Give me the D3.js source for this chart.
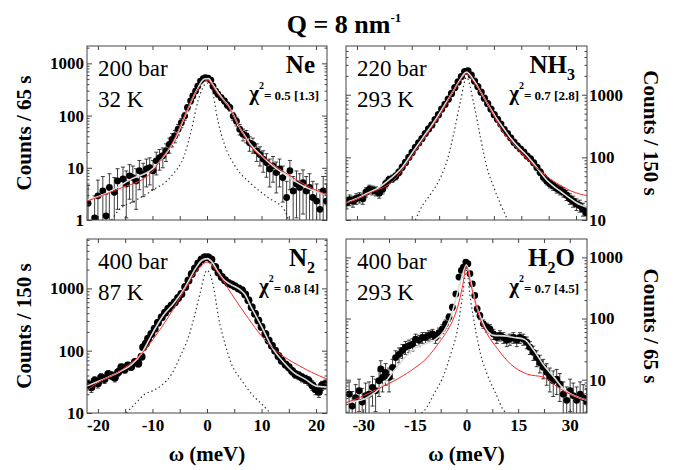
<!DOCTYPE html>
<html>
<head>
<meta charset="utf-8">
<script src="https://cdn.jsdelivr.net/npm/d3@7"></script>
<style>
  body { margin: 0; background: #fff; }
</style>
</head>
<body>
<script>
// ---- data: [omega (meV), counts, error] ----
const nePoints = [[-21.8,2.1,2.5],[-20.6,1.1,1.8],[-20.0,2.9,2.9],[-19.1,3.6,3.2],[-18.5,1.2,1.9],[-17.9,4.2,3.5],[-17.0,3.4,3.1],[-16.4,5.6,4.0],[-15.4,6.1,4.2],[-14.8,4.9,3.8],[-14.2,7.0,4.5],[-13.6,6.5,4.3],[-13.0,5.6,4.0],[-12.4,8.8,5.0],[-11.7,7.5,4.7],[-11.1,9.5,5.2],[-10.5,10.1,5.4],[-9.9,8.8,5.0],[-9.3,13.6,6.3],[-8.7,15.7,6.7],[-8.1,17,7],[-7.5,21,7.8],[-6.9,28,9],[-6.4,35,10],[-5.9,41,11],[-5.3,55,12.6],[-4.7,73,14.5],[-4.1,98,17],[-3.6,142,20],[-3.0,190,23],[-2.6,237,26],[-2.1,295,29],[-1.7,366,32],[-1.2,458,36],[-0.7,510,38],[-0.3,535,39],[0.2,520,39],[0.7,475,37],[1.1,366,32],[1.6,295,29],[2.0,256,27],[2.6,220,25],[3.2,190,23],[3.7,160,21.5],[4.2,142,20],[4.8,98,17],[5.4,78,15],[6.0,55,12.6],[6.6,44,11.3],[7.2,41,11],[7.8,30,9.3],[8.4,28,9],[9.1,21,7.8],[9.7,18,7.2],[10.3,14.7,6.5],[10.9,12.6,6],[11.5,9.5,5.2],[12.1,10.9,5.6],[12.7,8.1,4.8],[13.3,9.5,5.2],[13.9,6.5,4.3],[14.6,2.7,2.8],[15.2,8.8,5.0],[15.8,3.6,3.2],[16.4,4.9,3.8],[17.0,4.2,3.5],[17.6,5.2,3.9],[18.2,3.6,3.2],[18.8,4.2,3.5],[19.4,2.7,2.8],[20.1,2.3,2.6],[20.7,1.6,2.2],[21.3,3.6,3.2],[21.9,2.3,2.6]];
const neFit = [[-22,2.4],[-18,3.4],[-14,6],[-10,9.5],[-8,16],[-6,33],[-4,100],[-2,290],[-0.5,500],[0.3,510],[1,400],[2,280],[3,200],[4,150],[5,95],[6,58],[7,40],[8,28],[10,17],[12,11],[14,7.8],[16,5.6],[18,4.3],[20,3.5],[22,3.0]];
const neRed = [[-22,2.3],[-16.3,3.9],[-10.2,8.1],[-8.4,14.7],[-6.5,28],[-4.1,98],[-2.3,256],[-0.7,427],[0,480],[2,256],[3.9,153],[6.3,51],[8,26],[11.2,13.6],[14.3,8.1],[17.3,5.2],[22,3.0]];
const neRes = [[-17.5,1],[-16.3,1.5],[-13.3,2.3],[-10.2,3.6],[-6.5,7],[-4.1,18],[-2.9,51],[-1.65,190],[0,420],[0.8,343],[2,79],[3.2,28],[5.1,11],[8.1,4.9],[11.2,2.7],[14.3,1.5],[14.9,1]];

const nh3Points = [[-32.8,19,4],[-32.0,21,4.1],[-31.1,20,4],[-30.2,22,4.2],[-29.3,23,4.3],[-28.4,22,4.2],[-27.5,28,4.8],[-26.6,31,5],[-25.7,30,4.9],[-24.8,29,4.8],[-23.9,27,4.7],[-23.0,31,5],[-22.1,38,5.5],[-21.2,44,6],[-20.3,46,6.1],[-19.4,50,6.4],[-18.5,58,6.9],[-17.6,70,7.5],[-16.7,83,8.2],[-15.8,100,9],[-14.9,120,9.9],[-14.0,145,11],[-13.1,170,12],[-12.2,200,13],[-11.3,240,14],[-10.4,285,15],[-9.5,330,16],[-8.6,400,18],[-7.7,480,20],[-6.8,590,22],[-5.9,700,24],[-5.0,850,26],[-4.1,1050,29],[-3.2,1300,32],[-2.3,1600,36],[-1.4,1950,40],[-0.5,2350,44],[0.4,2400,44],[1.3,2050,41],[2.2,1650,37],[3.1,1350,33],[4.0,1100,30],[4.9,880,27],[5.8,720,24],[6.7,590,22],[7.6,480,20],[8.5,405,18],[9.4,340,17],[10.3,280,15],[11.2,240,14],[12.1,205,13],[13.0,175,12],[13.9,153,11],[14.8,136,10.5],[15.7,121,10],[16.6,105,9.2],[17.5,95,8.8],[18.4,82,8.1],[19.3,69,7.5],[20.2,58,6.9],[21.1,48,6.2],[22.0,42,5.8],[22.9,38,5.5],[23.8,35,5.3],[24.7,32,5.1],[25.6,30,4.9],[26.5,28,4.8],[27.4,25,4.5],[28.3,22,4.2],[29.2,20,4],[30.1,18,3.8],[31.0,17,3.7],[31.9,15,3.5],[32.8,13,3.2]];
const nh3Fit = [[-33,19],[-30,22],[-27,27],[-24,33],[-21,45],[-18,65],[-15,115],[-12,205],[-9,360],[-6,690],[-4,1050],[-2,1650],[0,2300],[2,1700],[4,1080],[6,680],[8,440],[10,300],[12,205],[14,150],[16,115],[18,85],[20,60],[22,43],[24,34],[26,28],[28,23],[30,19],[33,16]];
const nh3Red = [[-33,18.5],[-29,23],[-26,27.7],[-20,42.6],[-16,85],[-13,150],[-10.8,238],[-7,500],[-4,1050],[-2,1590],[0,2140],[2,1600],[4,1080],[7,528],[10,250],[12,186],[14,135],[17.5,84],[20,62],[23,45],[26,35],[28.4,29.5],[31,26],[33,24.5]];
const nh3Res = [[-14,10],[-12.6,15],[-9.8,26],[-7.1,48],[-5.3,89],[-3.5,240],[-1.6,810],[0,1900],[2,720],[3.8,210],[5.6,69],[7.5,33],[9.3,18],[11.3,10]];

const n2Points = [[-21.8,29,4.8],[-21.2,26,4.6],[-20.6,33,5.2],[-20.0,30,4.9],[-19.4,37,5.5],[-18.8,35,5.3],[-18.1,42,5.8],[-17.5,40,5.7],[-16.9,37,5.5],[-16.3,45,6],[-15.7,54,6.6],[-15.1,50,6.4],[-14.5,58,6.9],[-13.9,55,6.7],[-13.2,66,7.3],[-12.6,62,7.1],[-12.0,80,8],[-11.7,114,9.6],[-11.2,130,10],[-10.8,155,11],[-10.2,185,12],[-9.6,224,13.5],[-9.0,280,15],[-8.3,345,17],[-7.7,405,18],[-7.1,470,19.5],[-6.5,530,21],[-5.9,600,22],[-5.3,700,24],[-4.7,815,26],[-4.0,1050,29],[-3.4,1340,33],[-2.8,1700,37],[-2.2,2080,41],[-1.6,2500,45],[-1.0,2900,48],[-0.4,3170,50],[0.2,3150,50],[0.8,2900,48],[1.5,2200,42],[2.1,1800,38],[2.7,1520,35],[3.3,1350,33],[3.9,1220,31],[4.5,1150,30],[5.1,1080,30],[5.8,1000,28],[6.4,930,27],[7.0,800,25],[7.6,645,23],[8.2,500,20],[8.8,390,18],[9.4,305,16],[10.0,240,14],[10.7,185,12],[11.3,146,11],[11.9,120,10],[12.5,100,9],[13.1,82,8.1],[13.7,69,7.5],[14.4,60,7],[15.0,54,6.6],[15.6,47,6.2],[16.2,42,5.8],[16.8,40,5.7],[17.4,37,5.5],[18.0,35,5.3],[18.6,33,5.2],[19.3,28,4.8],[19.9,24,4.4],[20.5,22,4.2],[21.1,27.6,4.7],[21.7,29,4.8]];
const n2Fit = [[-22,27],[-20,32],[-18,38],[-16,46],[-14,58],[-12,90],[-10,190],[-8,370],[-6,590],[-4,1050],[-2,2150],[-1,2800],[0,3000],[1,2600],[2,1850],[3,1400],[4,1200],[5,1080],[6,960],[7,790],[8,520],[9,360],[10,245],[12,110],[14,66],[16,44],[18,35],[20,27],[22,26]];
const n2Red = [[-22,23],[-19.4,33],[-16.9,42],[-14.5,58],[-12,89],[-9.6,165],[-7.1,345],[-4.7,770],[-2.2,1740],[0,2640],[2.1,1740],[4.5,815],[7,390],[9.4,200],[11.9,114],[14.3,78],[16.8,58],[19.2,45],[22,35]];
const n2Res = [[-14.8,10],[-13.2,14],[-11.4,20],[-9.6,23.5],[-8.3,28],[-6.5,42],[-4.7,89],[-3.4,165],[-2.2,390],[-1.3,810],[0,1950],[1.2,1050],[2.1,345],[3.3,129],[4.5,61],[6.4,33],[8.2,20],[10,14],[11.6,10]];

const h2oPoints = [[-34.1,5.8,3.4],[-33.2,3.7,2.7],[-32.2,5.1,3.2],[-31.2,6.6,3.6],[-30.3,4.3,2.9],[-29.3,5.5,3.3],[-28.3,5.8,3.4],[-27.3,7.5,3.8],[-26.4,6.6,3.6],[-25.4,9.6,4.3],[-24.9,15,5.4],[-24.4,10.9,4.6],[-23.5,13.2,5.1],[-22.5,10.9,4.6],[-21.5,15.9,5.6],[-20.6,23,6.7],[-19.6,26,7.1],[-18.6,30,7.7],[-17.7,34,8.2],[-16.7,36,8.4],[-15.7,38,8.6],[-14.8,46,9.5],[-13.8,44,9.3],[-12.8,49,9.8],[-11.9,49,9.8],[-10.9,53,10.2],[-9.9,56,10.5],[-9.0,49,9.8],[-8.0,59,10.8],[-7.0,68,11.5],[-6.1,82,12.7],[-5.1,105,14.3],[-4.1,153,17.3],[-3.1,253,22],[-2.2,476,30],[-1.5,612,35],[-0.9,695,37],[-0.2,840,41],[0.4,790,39],[1.0,540,33],[1.7,370,27],[2.4,238,22],[3.1,144,17],[3.9,111,15],[4.9,82,12.7],[5.9,72,12],[6.8,68,11.5],[7.8,56,10.5],[8.8,49,9.8],[9.7,53,10.2],[10.7,49,9.8],[11.7,44,9.3],[12.6,46,9.5],[13.6,49,9.8],[14.6,44,9.3],[15.5,49,9.8],[16.5,46,9.5],[17.5,41,9],[18.4,34,8.2],[19.4,28,7.4],[20.4,23,6.7],[21.3,19,6.1],[22.3,15.9,5.6],[23.3,13.2,5.1],[24.2,10.9,4.6],[25.2,9.6,4.3],[26.2,10.2,4.5],[27.1,8.5,4.1],[28.1,5.8,3.4],[29.1,4.6,3.0],[30.1,6.6,3.6],[31.0,5.5,3.3],[32.0,4.6,3.0],[33.0,5.8,3.4],[33.9,5.1,3.2],[34.9,4.3,2.9]];
const h2oFit = [[-35,4.3],[-30.7,4.6],[-27.8,5.5],[-24.9,7.5],[-21.1,14],[-18.2,22],[-15.2,32],[-12.3,38],[-9.4,44],[-6.5,63],[-4.6,105],[-2.7,253],[-1.2,510],[0,760],[1.2,420],[2.7,174],[4.1,105],[6.0,63],[8.0,53],[10.9,52],[13.8,49],[16.7,46],[19.6,30],[22.5,17],[25.4,11],[28.3,7],[32.2,5.2],[35,4.6]];
const h2oRed = [[-35,4.2],[-30.7,5.2],[-25.9,7.0],[-21,9.6],[-16.2,14],[-11.4,23],[-7.5,44],[-5.6,63],[-3.6,105],[-2.2,185],[-1.2,326],[0,710],[1.2,370],[2.7,174],[4.1,93],[6.0,56],[9,32],[12.8,18],[17.7,12.3],[22.5,10.9],[27.3,7],[32.2,5.2],[35,4.6]];
const h2oRes = [[-13.1,2.85],[-12.3,3.1],[-9.4,5.9],[-6.5,12.3],[-4.6,26],[-2.7,63],[-1.2,224],[0,612],[1.2,198],[2.7,63],[4.1,26],[6.0,12.3],[8.5,5.9],[10.9,3.1],[11.7,2.85]];

// ---- labels and ticks ----
const pressures = ['200 bar', '220 bar', '400 bar', '400 bar'];
const temps = ['32 K', '293 K', '87 K', '293 K'];
const gases = [[['Ne', 0]], [['NH', 0], ['3', 1]], [['N', 0], ['2', 1]], [['H', 0], ['2', 1], ['O', 0]]];
const chiVals = ['0.5 [1.3]', '0.7 [2.8]', '0.8 [4]', '0.7 [4.5]'];
const yTitles = ['Counts / 65 s', 'Counts / 150 s', 'Counts / 150 s', 'Counts / 65 s'];
const xTicksLeft = [-20, -15, -10, -5, 0, 5, 10, 15, 20];
const xLabelsLeft = [-20, -10, 0, 10, 20];
const xTicksRight = [-30, -22.5, -15, -7.5, 0, 7.5, 15, 22.5, 30];
const xLabelsRight = [-30, -15, 0, 15, 30];

const W = 683, H = 470;
const SERIF = '"Liberation Serif", "Times New Roman", "DejaVu Serif", serif';
const svg = d3.select('body').append('svg').attr('width', W).attr('height', H)
  .attr('font-family', SERIF);

const panels = [
  {pts: nePoints, fit: neFit, red: neRed, res: neRes, box: [87, 46, 327, 220], xd: [-22, 22], yd: [1, 2150], yt: [1, 10, 100, 1000], side: 'left', xt: xTicksLeft, xl: null, r: 3.4},
  {pts: nh3Points, fit: nh3Fit, red: nh3Red, res: nh3Res, box: [346, 46, 587, 220], xd: [-33, 33], yd: [10, 6000], yt: [10, 100, 1000], side: 'right', xt: xTicksRight, xl: null, r: 3.6},
  {pts: n2Points, fit: n2Fit, red: n2Red, res: n2Res, box: [87, 239, 327, 413], xd: [-22, 22], yd: [10, 6200], yt: [10, 100, 1000], side: 'left', xt: xTicksLeft, xl: xLabelsLeft, r: 4},
  {pts: h2oPoints, fit: h2oFit, red: h2oRed, res: h2oRes, box: [346, 239, 587, 413], xd: [-35, 35], yd: [2.85, 2000], yt: [10, 100, 1000], side: 'right', xt: xTicksRight, xl: xLabelsRight, r: 3.4}
];

panels.forEach((p, i) => {
  const [x0, y0, x1, y1] = p.box;
  const x = d3.scaleLinear().domain(p.xd).range([x0, x1]);
  const y = d3.scaleLog().domain(p.yd).range([y1, y0]);
  const clipId = 'clip' + i;
  svg.append('clipPath').attr('id', clipId)
    .append('rect').attr('x', x0).attr('y', y0).attr('width', x1 - x0).attr('height', y1 - y0);
  const g = svg.append('g').attr('clip-path', 'url(#' + clipId + ')');
  const line = d3.line().x(d => x(d[0])).y(d => y(d[1])).curve(d3.curveMonotoneX);

  // resolution (dotted)
  g.append('path').datum(p.res).attr('d', line)
    .attr('fill', 'none').attr('stroke', '#333').attr('stroke-width', 1.2).attr('stroke-dasharray', '1.4,2.8');

  // error bars
  const lo = d => y(Math.max(d[1] - d[2], p.yd[0] * 0.5));
  const eb = g.append('g').attr('stroke', '#111').attr('stroke-width', 0.8);
  eb.selectAll('line.v').data(p.pts).join('line').attr('class', 'v')
    .attr('x1', d => x(d[0])).attr('x2', d => x(d[0]))
    .attr('y1', lo).attr('y2', d => y(d[1] + d[2]));
  eb.selectAll('line.t').data(p.pts).join('line').attr('class', 't')
    .attr('x1', d => x(d[0]) - 2).attr('x2', d => x(d[0]) + 2)
    .attr('y1', d => y(d[1] + d[2])).attr('y2', d => y(d[1] + d[2]));
  eb.selectAll('line.b').data(p.pts).join('line').attr('class', 'b')
    .attr('x1', d => x(d[0]) - 2).attr('x2', d => x(d[0]) + 2)
    .attr('y1', lo).attr('y2', lo);

  // data points
  g.selectAll('circle').data(p.pts).join('circle')
    .attr('cx', d => x(d[0])).attr('cy', d => y(d[1])).attr('r', p.r).attr('fill', '#000');

  // fit (light) and red model
  g.append('path').datum(p.fit).attr('d', line)
    .attr('fill', 'none').attr('stroke', '#dcdcdc').attr('stroke-width', 1.6);
  g.append('path').datum(p.red).attr('d', line)
    .attr('fill', 'none').attr('stroke', '#ff2a2a').attr('stroke-width', 1);

  // frame
  svg.append('rect').attr('x', x0).attr('y', y0).attr('width', x1 - x0).attr('height', y1 - y0)
    .attr('fill', 'none').attr('stroke', '#444').attr('stroke-width', 1);

  // x axes (inward ticks)
  const fmt = d => (p.xl && p.xl.includes(d)) ? String(d) : '';
  const xb = svg.append('g').attr('transform', `translate(0,${y1})`)
    .call(d3.axisBottom(x).tickValues(p.xt).tickSize(-4).tickPadding(6).tickFormat(fmt));
  const xtop = svg.append('g').attr('transform', `translate(0,${y0})`)
    .call(d3.axisTop(x).tickValues(p.xt).tickSize(-4).tickFormat(''));

  // y axes (log, major + minor)
  const minors = [];
  for (let k = -1; k <= 4; k++) for (let m = 2; m <= 9; m++) {
    const v = m * Math.pow(10, k);
    if (v > p.yd[0] && v < p.yd[1]) minors.push(v);
  }
  const yl = svg.append('g').attr('transform', `translate(${x0},0)`)
    .call(d3.axisLeft(y).tickValues(p.yt).tickSize(-5).tickPadding(3)
      .tickFormat(p.side === 'left' ? d3.format('d') : ''));
  const yr = svg.append('g').attr('transform', `translate(${x1},0)`)
    .call(d3.axisRight(y).tickValues(p.yt).tickSize(-5).tickPadding(2)
      .tickFormat(p.side === 'right' ? d3.format('d') : ''));
  svg.append('g').attr('transform', `translate(${x0},0)`)
    .call(d3.axisLeft(y).tickValues(minors).tickSize(-2.5).tickFormat(''));
  svg.append('g').attr('transform', `translate(${x1},0)`)
    .call(d3.axisRight(y).tickValues(minors).tickSize(-2.5).tickFormat(''));

  svg.selectAll('.domain').remove();
  [xb, xtop, yl, yr].forEach(a => {
    a.attr('font-family', SERIF);
    a.selectAll('text').attr('font-weight', 'bold').attr('font-size', 17).attr('fill', '#000');
  });
  svg.selectAll('.tick line').attr('stroke', '#444');

  // in-panel text
  const tf = svg.append('g').attr('font-family', SERIF);
  tf.append('text').attr('x', x0 + 11).attr('y', y0 + 30).attr('font-size', 23).text(pressures[i]);
  tf.append('text').attr('x', x0 + 11).attr('y', y0 + 61).attr('font-size', 23).text(temps[i]);
  const gt = tf.append('text').attr('x', x1 - 12).attr('y', y0 + 27)
    .attr('text-anchor', 'end').attr('font-weight', 'bold').attr('font-size', 25);
  let prevSub = 0;
  gases[i].forEach(([t, sub]) => {
    gt.append('tspan').attr('dy', (sub - prevSub) * 7).attr('font-size', sub ? 16 : 25).text(t);
    prevSub = sub;
  });
  const ct = tf.append('text').attr('x', x1 - 8).attr('y', y0 + 54)
    .attr('text-anchor', 'end').attr('font-weight', 'bold');
  ct.append('tspan').attr('font-size', 21).text('\u03c7');
  ct.append('tspan').attr('font-size', 10).attr('dy', -11).text('2');
  ct.append('tspan').attr('font-size', 13).attr('dy', 11).text('= ' + chiVals[i]);

  // y title
  const cy = (y0 + y1) / 2;
  const tx = p.side === 'left' ? 24 : 651;
  svg.append('text').attr('transform', `translate(${tx},${cy}) rotate(${p.side === 'left' ? -90 : 90})`)
    .attr('text-anchor', 'middle').attr('dominant-baseline', 'central')
    .attr('font-weight', 'bold').attr('font-size', 21).text(yTitles[i]);

  // x title
  if (p.xl) {
    svg.append('text').attr('x', (x0 + x1) / 2).attr('y', 461).attr('text-anchor', 'middle')
      .attr('font-weight', 'bold').attr('font-size', 21).text('\u03c9 (meV)');
  }
});

// figure title
const tt = svg.append('text').attr('x', 344).attr('y', 33).attr('text-anchor', 'middle')
  .attr('font-weight', 'bold').attr('font-size', 26);
tt.append('tspan').text('Q = 8 nm');
tt.append('tspan').attr('font-size', 13).attr('dy', -11).text('-1');
</script>
</body>
</html>
